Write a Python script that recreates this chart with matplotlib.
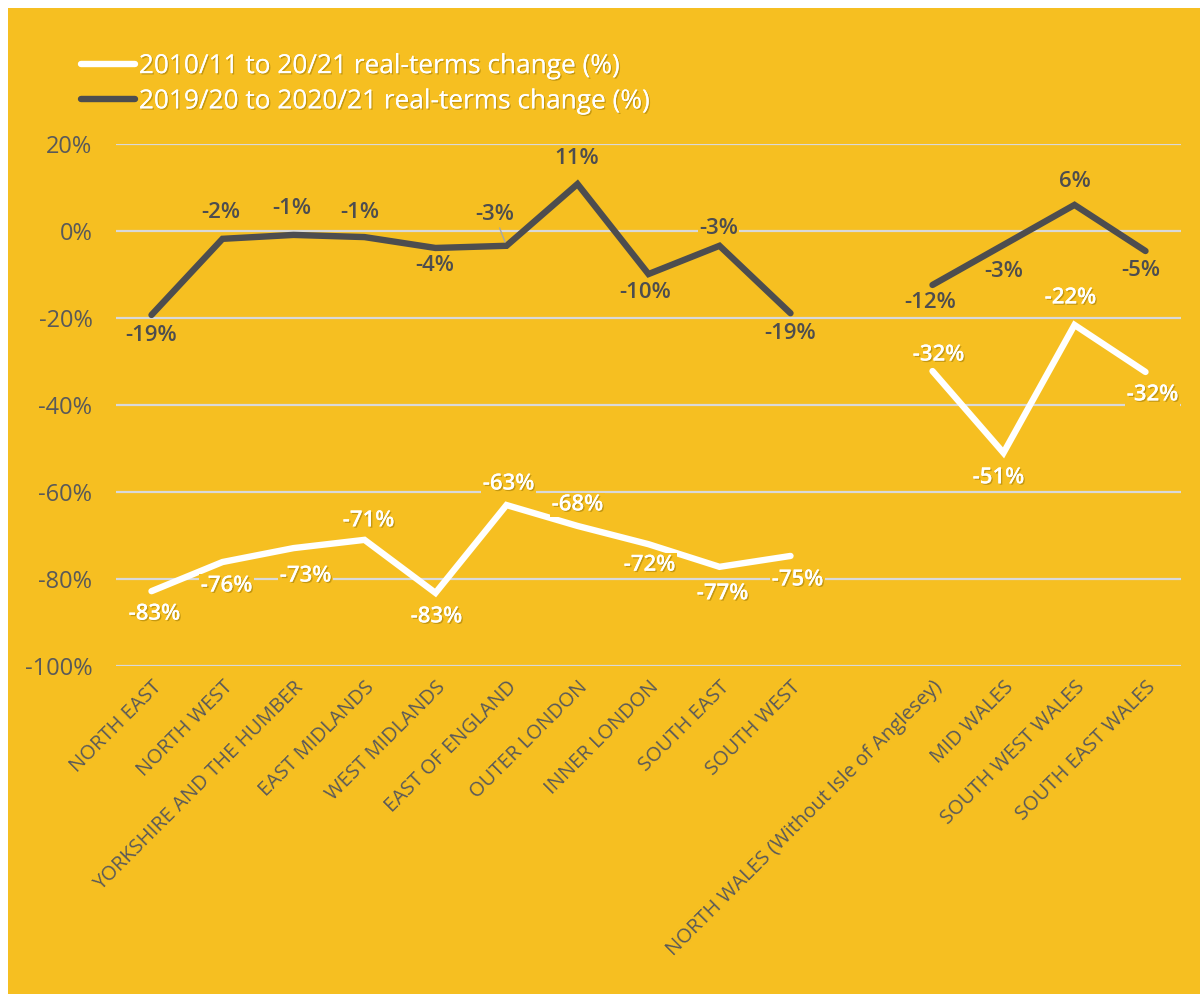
import matplotlib.pyplot as plt
import matplotlib.patheffects as pe
from matplotlib.patches import Rectangle
import numpy as np

# Data
regions = ["NORTH EAST", "NORTH WEST", "YORKSHIRE AND THE HUMBER", "EAST MIDLANDS",
           "WEST MIDLANDS", "EAST OF ENGLAND", "OUTER LONDON", "INNER LONDON",
           "SOUTH EAST", "SOUTH WEST", "",
           "NORTH WALES (Without Isle of Anglesey)", "MID WALES",
           "SOUTH WEST WALES", "SOUTH EAST WALES"]
long_change = [-82.8, -76.1, -72.9, -71.0, -83.2, -63.0, -67.8, -72.0, -77.2, -74.7,
               np.nan, -32.2, -51.0, -21.6, -32.4]
long_labels = ["-83%", "-76%", "-73%", "-71%", "-83%", "-63%", "-68%", "-72%", "-77%", "-75%",
               "", "-32%", "-51%", "-22%", "-32%"]
short_change = [-19.3, -1.8, -0.9, -1.4, -3.9, -3.4, 10.8, -9.9, -3.4, -18.9,
                np.nan, -12.4, -3.2, 6.0, -4.6]
short_labels = ["-19%", "-2%", "-1%", "-1%", "-4%", "-3%", "11%", "-10%", "-3%", "-19%",
                "", "-12%", "-3%", "6%", "-5%"]
long_name = "2010/11 to 20/21 real-terms change (%)"
short_name = "2019/20 to 2020/21 real-terms change (%)"

# label offsets in pixels (dx, dy)
long_off = [(3, -23), (4, -24), (12, -28), (4, 19), (1, -24), (2, 21), (0, 21), (1, -21),
            (3, -27), (7, -24), None, (6, 16), (-5, -25), (-4, 27), (7, -23)]
short_off = [(0, -21), (-2, 26), (-2, 26), (-5, 25), (-1, -18), (-12, 31), (-1, 26), (-3, -18),
             (-1, 17), (0, -20), None, (-2, -18), (0, -27), (0, 23), (-5, -19)]

YELLOW = "#F6BF21"
DARK = "#4D4D4F"
GRAY = "#595959"
FONT = "Open Sans"

plt.rcParams['font.family'] = [FONT, 'DejaVu Sans']

fig = plt.figure(figsize=(12, 9.94), dpi=100, facecolor="white")
fig.patches.append(Rectangle((8 / 1200, 0), 1, 1 - 8 / 994, transform=fig.transFigure,
                             facecolor=YELLOW, edgecolor="none", zorder=-10))

ax = fig.add_axes([116 / 1200, 1 - 666 / 994, (1181 - 116) / 1200, (666 - 144) / 994])
ax.set_facecolor("none")

x = np.arange(len(regions))
l1, = ax.plot(x, long_change, color="white", lw=4.6, solid_capstyle="round",
              solid_joinstyle="miter", zorder=3, label=long_name)
l2, = ax.plot(x, short_change, color=DARK, lw=4.6, solid_capstyle="round",
              solid_joinstyle="miter", zorder=3, label=short_name)

shadow = [pe.withSimplePatchShadow(offset=(1, -1), shadow_rgbFace="#8a6a00", alpha=0.45), pe.Normal()]

for i in range(len(regions)):
    if long_off[i] is not None:
        dx, dy = long_off[i]
        ax.annotate(long_labels[i], (x[i], long_change[i]), xytext=(dx * 0.72, dy * 0.72),
                    textcoords="offset points", ha="center", va="center", fontsize=16,
                    color="white", fontweight="semibold", path_effects=shadow, zorder=5,
                    bbox=dict(facecolor=YELLOW, edgecolor="none", pad=1))
    if short_off[i] is not None:
        dx, dy = short_off[i]
        arrow = None
        if i == 5:
            arrow = dict(arrowstyle="-", color="#A6A6A6", lw=1, shrinkA=1, shrinkB=3)
        ax.annotate(short_labels[i], (x[i], short_change[i]), xytext=(dx * 0.72, dy * 0.72),
                    textcoords="offset points", ha="center", va="center", fontsize=16,
                    color=DARK, fontweight="semibold", zorder=5, arrowprops=arrow,
                    bbox=dict(facecolor=YELLOW, edgecolor="none", pad=1))

ax.set_xlim(-0.5, len(regions) - 0.5)
ax.set_ylim(-100, 20)
ax.set_yticks(range(-100, 21, 20))
ax.set_yticklabels([f"{v}%" for v in range(-100, 21, 20)])
ax.grid(axis="y", color="#D9D9D9", lw=1.6, zorder=1)
ax.set_axisbelow(True)
for s in ax.spines.values():
    s.set_visible(False)
ax.tick_params(axis="y", length=0, pad=17, labelsize=17, labelcolor=GRAY)
ax.tick_params(axis="x", length=0, pad=8)

ax.set_xticks(x)
ax.set_xticklabels(regions, rotation=45, ha="right", va="top", rotation_mode="anchor",
                   fontsize=14.5, color=GRAY)

leg = fig.legend(handles=[l1, l2], loc="upper left", bbox_to_anchor=(68 / 1200, 1 - 41 / 994),
                 frameon=False, fontsize=18.9, handlelength=2.05, handletextpad=0.15,
                 labelspacing=0.39, borderpad=0)
for t in leg.get_texts():
    t.set_color("white")
    t.set_path_effects(shadow)

fig.savefig("out.png", dpi=100, facecolor="white")
